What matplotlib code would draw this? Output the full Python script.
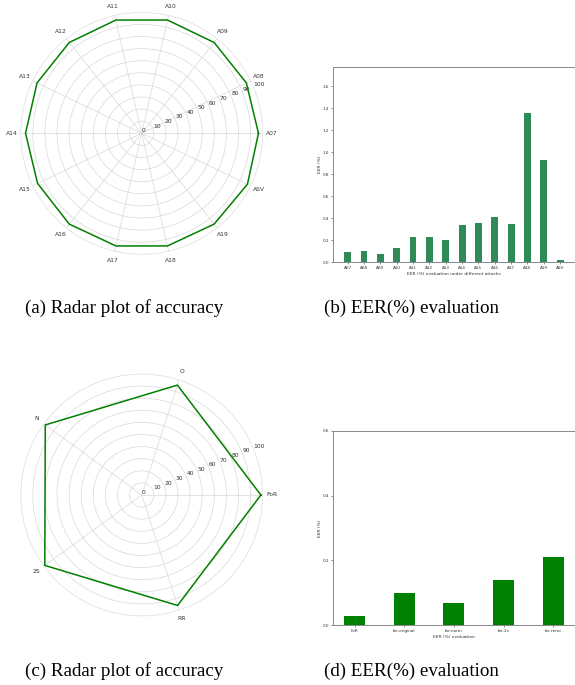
import numpy as np
import matplotlib
matplotlib.use("Agg")
import matplotlib.pyplot as plt

# data
attacks = ["A07", "A08", "A09", "A10", "A11", "A12", "A13",
           "A14", "A15", "A16", "A17", "A18", "A19", "ASV"]
acc_attacks = [96.5, 96.0, 96.0, 96.0, 96.0, 96.0, 96.0,
               96.0, 95.5, 96.0, 95.5, 95.5, 96.0, 97.0]
eer_attacks = [0.09, 0.10, 0.07, 0.13, 0.23, 0.23, 0.20,
               0.34, 0.36, 0.41, 0.35, 1.36, 0.93, 0.02]

sets = ["FoR", "O", "N", "2S", "RR"]
acc_sets = [98.5, 95.5, 98.5, 99.0, 96.0]
for_names = ["FoR", "for-original", "for-norm", "for-2s", "for-rerec"]
eer_for = [0.03, 0.10, 0.07, 0.14, 0.21]

W, H = 575, 685
fig = plt.figure(figsize=(W / 100, H / 100), dpi=100)


def box(x0, y0, x1, y1):
    # pixel box (top-down) -> figure fraction
    return [x0 / W, 1 - y1 / H, (x1 - x0) / W, (y1 - y0) / H]


def radar(rect, labels, vals):
    ax = fig.add_axes(rect, projection="polar")
    n = len(labels)
    ang = np.linspace(0, 2 * np.pi, n, endpoint=False)
    a = np.concatenate([ang, ang[:1]])
    v = np.concatenate([vals, vals[:1]])
    ax.plot(a, v, color="green", lw=1.1)
    ax.set_ylim(0, 100)
    ax.set_yticks(np.arange(0, 101, 10))
    ax.set_xticks(ang)
    ax.set_xticklabels(labels, fontsize=4.3, color="#333333")
    ax.tick_params(axis="y", labelsize=4.3, labelcolor="#333333")
    ax.tick_params(axis="x", pad=-4)
    ax.grid(color="#d8d8d8", lw=0.5)
    ax.spines["polar"].set_color("#e6e6e6")
    ax.spines["polar"].set_linewidth(0.5)
    return ax


def bars(rect, names, vals, color, top, yticks, xlabel):
    ax = fig.add_axes(rect)
    x = np.arange(len(names))
    ax.bar(x, vals, width=0.42, color=color)
    ax.set_xticks(x)
    ax.set_xticklabels(names)
    ax.set_ylim(0, top)
    ax.set_yticks(yticks)
    ax.set_yticklabels([f"{t:.1f}" for t in yticks])
    ax.tick_params(labelsize=3, length=1.5, width=0.4, pad=1.5, colors="#333333")
    ax.set_xlabel(xlabel, fontsize=3.2, labelpad=1, color="#333333")
    ax.set_ylabel("EER (%)", fontsize=3.2, labelpad=0.5, color="#333333")
    for s in ax.spines.values():
        s.set_color("#888888")
        s.set_linewidth(0.7)
    return ax


radar(box(20.7, 12.3, 262.7, 254.3), attacks, acc_attacks)
bars(box(333.3, 66.7, 574.5, 262), attacks, eer_attacks, "#2e8b57",
     1.78, np.arange(0, 1.61, 0.2), "EER (%) evaluation under different attacks")

radar(box(20.7, 374, 262.7, 616), sets, acc_sets)
bars(box(333.3, 430.7, 574.5, 625.3), for_names, eer_for, "green",
     0.6, [0.0, 0.2, 0.4, 0.6], "EER (%) evaluation")

cap = dict(ha="center", va="center", fontsize=13.7, family="Liberation Serif")
fig.text(124 / W, 1 - 308 / H, "(a) Radar plot of accuracy", **cap)
fig.text(411 / W, 1 - 308 / H, "(b) EER(%) evaluation", **cap)
fig.text(124 / W, 1 - 671 / H, "(c) Radar plot of accuracy", **cap)
fig.text(411 / W, 1 - 671 / H, "(d) EER(%) evaluation", **cap)

fig.savefig("out.png", dpi=100)
